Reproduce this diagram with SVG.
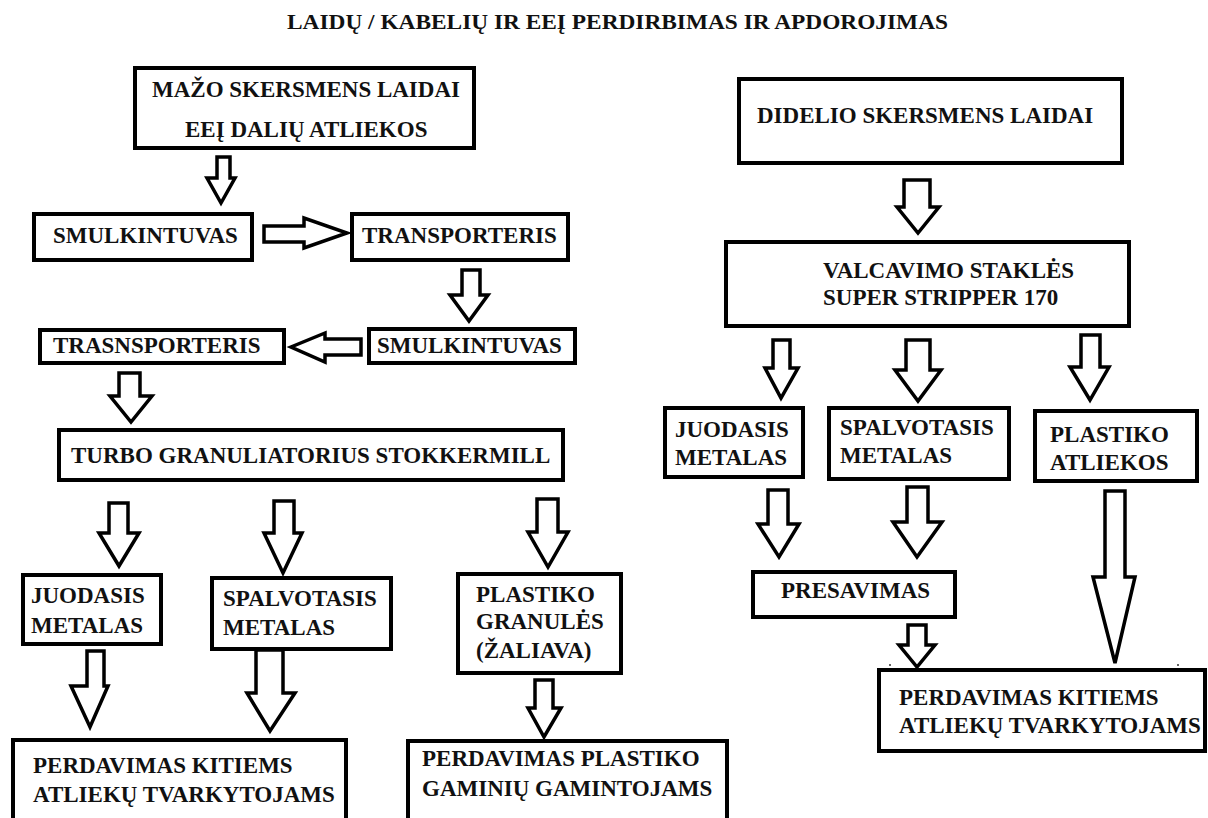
<svg xmlns="http://www.w3.org/2000/svg" width="1208" height="818" viewBox="0 0 1208 818">
<style>
.bg{fill:#ffffff}
.box{fill:#ffffff;stroke:#000;stroke-width:4}
.t{font-weight:bold;font-size:23px;fill:#111}
.title{font-weight:bold;font-size:22px;fill:#111}
.arr{fill:#ffffff;stroke:#000;stroke-width:3.5;stroke-linejoin:miter}
.dot{fill:#333}
</style>
<rect class="bg" x="0" y="0" width="1208" height="818"/>
<g font-family="Liberation Serif, DejaVu Serif, serif">
<text class="title" x="287" y="29" textLength="661" lengthAdjust="spacingAndGlyphs">LAIDŲ / KABELIŲ IR EEĮ PERDIRBIMAS IR APDOROJIMAS</text>
</g>

<g id="connectors">
<polygon class="arr" points="217,157 230,157 230,178 235,178 221,203 207,178 217,178"/>
<polygon class="arr" points="264,226 304,226 304,218 347,233 304,248 304,242 264,242"/>
<polygon class="arr" points="462,270 480,270 480,295 488,295 469,321 450,295 462,295"/>
<polygon class="arr" points="361,339 325,339 325,333 291,347 325,362 325,355 361,355"/>
<polygon class="arr" points="119,373 140,373 140,396 152,396 131,422 110,396 119,396"/>
<polygon class="arr" points="109,503 128,503 128,533 139,533 119,566 99,533 109,533"/>
<polygon class="arr" points="274,501 294,501 294,533 302,533 283,573 264,533 274,533"/>
<polygon class="arr" points="537,499 558,499 558,532 568,532 548,567 528,532 537,532"/>
<polygon class="arr" points="87,651 104,651 104,686 108,686 90,727 71,686 87,686"/>
<polygon class="arr" points="256,650 283,650 283,693 295,693 270,731 247,693 256,693"/>
<polygon class="arr" points="535,680 553,680 553,708 561,708 544,737 528,708 535,708"/>
<polygon class="arr" points="904,180 930,180 930,207 939,207 918,233 897,207 904,207"/>
<polygon class="arr" points="773,340 790,340 790,368 798,368 781,398 765,368 773,368"/>
<polygon class="arr" points="906,340 930,340 930,370 941,370 918,401 895,370 906,370"/>
<polygon class="arr" points="1081,335 1100,335 1100,367 1109,367 1090,400 1070,367 1081,367"/>
<polygon class="arr" points="768,490 788,490 788,524 799,524 779,557 758,524 768,524"/>
<polygon class="arr" points="907,487 928,487 928,522 942,522 917,557 893,522 907,522"/>
<polygon class="arr" points="908,625 926,625 926,645 935,645 917,667 899,645 908,645"/>
<polygon class="arr" points="1105,491 1125,491 1125,577 1135,577 1115,663 1093,577 1105,577"/>
</g>

<g font-family="Liberation Serif, DejaVu Serif, serif">
<g id="n-mazo"><rect class="box" x="135" y="68" width="339" height="80"/>
<text class="t" x="152" y="97">MAŽO SKERSMENS LAIDAI</text>
<text class="t" x="185" y="137">EEĮ DALIŲ ATLIEKOS</text></g>

<g id="n-smulk1"><rect class="box" x="34" y="214" width="218" height="46"/>
<text class="t" x="53" y="243">SMULKINTUVAS</text></g>

<g id="n-transp"><rect class="box" x="352" y="214" width="216" height="46"/>
<text class="t" x="362" y="243">TRANSPORTERIS</text></g>

<g id="n-smulk2"><rect class="box" x="369" y="329" width="206" height="34"/>
<text class="t" x="377" y="353">SMULKINTUVAS</text></g>

<g id="n-trasn"><rect class="box" x="40" y="330" width="244" height="33"/>
<text class="t" x="53" y="353">TRASNSPORTERIS</text></g>

<g id="n-turbo"><rect class="box" x="59" y="430" width="504" height="50"/>
<text class="t" x="71" y="463">TURBO GRANULIATORIUS STOKKERMILL</text></g>

<g id="n-juod-l"><rect class="box" x="23" y="575" width="138" height="69"/>
<text class="t" x="31" y="603">JUODASIS</text>
<text class="t" x="31" y="633">METALAS</text></g>

<g id="n-spalv-l"><rect class="box" x="212" y="578" width="179" height="71"/>
<text class="t" x="223" y="606">SPALVOTASIS</text>
<text class="t" x="223" y="635">METALAS</text></g>

<g id="n-plast-gran"><rect class="box" x="458" y="574" width="163" height="99"/>
<text class="t" x="476" y="602">PLASTIKO</text>
<text class="t" x="476" y="629">GRANULĖS</text>
<text class="t" x="476" y="658">(ŽALIAVA)</text></g>

<g id="n-perd-l"><rect class="box" x="13" y="740" width="333" height="100"/>
<text class="t" x="33" y="773">PERDAVIMAS KITIEMS</text>
<text class="t" x="33" y="802">ATLIEKŲ TVARKYTOJAMS</text></g>

<g id="n-perd-plast"><rect class="box" x="408" y="741" width="319" height="100"/>
<text class="t" x="422" y="766">PERDAVIMAS PLASTIKO</text>
<text class="t" x="422" y="796">GAMINIŲ GAMINTOJAMS</text></g>

<g id="n-didelio"><rect class="box" x="739" y="79" width="383" height="84"/>
<text class="t" x="757" y="123">DIDELIO SKERSMENS LAIDAI</text></g>

<g id="n-valc"><rect class="box" x="726" y="242" width="403" height="84"/>
<text class="t" x="823" y="278">VALCAVIMO STAKLĖS</text>
<text class="t" x="823" y="305">SUPER STRIPPER 170</text></g>

<g id="n-juod-r"><rect class="box" x="665" y="408" width="138" height="69"/>
<text class="t" x="675" y="437">JUODASIS</text>
<text class="t" x="675" y="465">METALAS</text></g>

<g id="n-spalv-r"><rect class="box" x="829" y="408" width="180" height="71"/>
<text class="t" x="840" y="435">SPALVOTASIS</text>
<text class="t" x="840" y="463">METALAS</text></g>

<g id="n-plast-atl"><rect class="box" x="1035" y="411" width="162" height="70"/>
<text class="t" x="1050" y="442">PLASTIKO</text>
<text class="t" x="1050" y="470">ATLIEKOS</text></g>

<g id="n-pres"><rect class="box" x="753" y="572" width="202" height="45"/>
<text class="t" x="781" y="598">PRESAVIMAS</text></g>

<g id="n-perd-r"><rect class="box" x="879" y="670" width="326" height="81"/>
<text class="t" x="899" y="705">PERDAVIMAS KITIEMS</text>
<text class="t" x="899" y="733">ATLIEKŲ TVARKYTOJAMS</text></g>
</g>

<circle class="dot" cx="890" cy="665" r="1"/>
<circle class="dot" cx="1178" cy="665" r="1"/>
</svg>
